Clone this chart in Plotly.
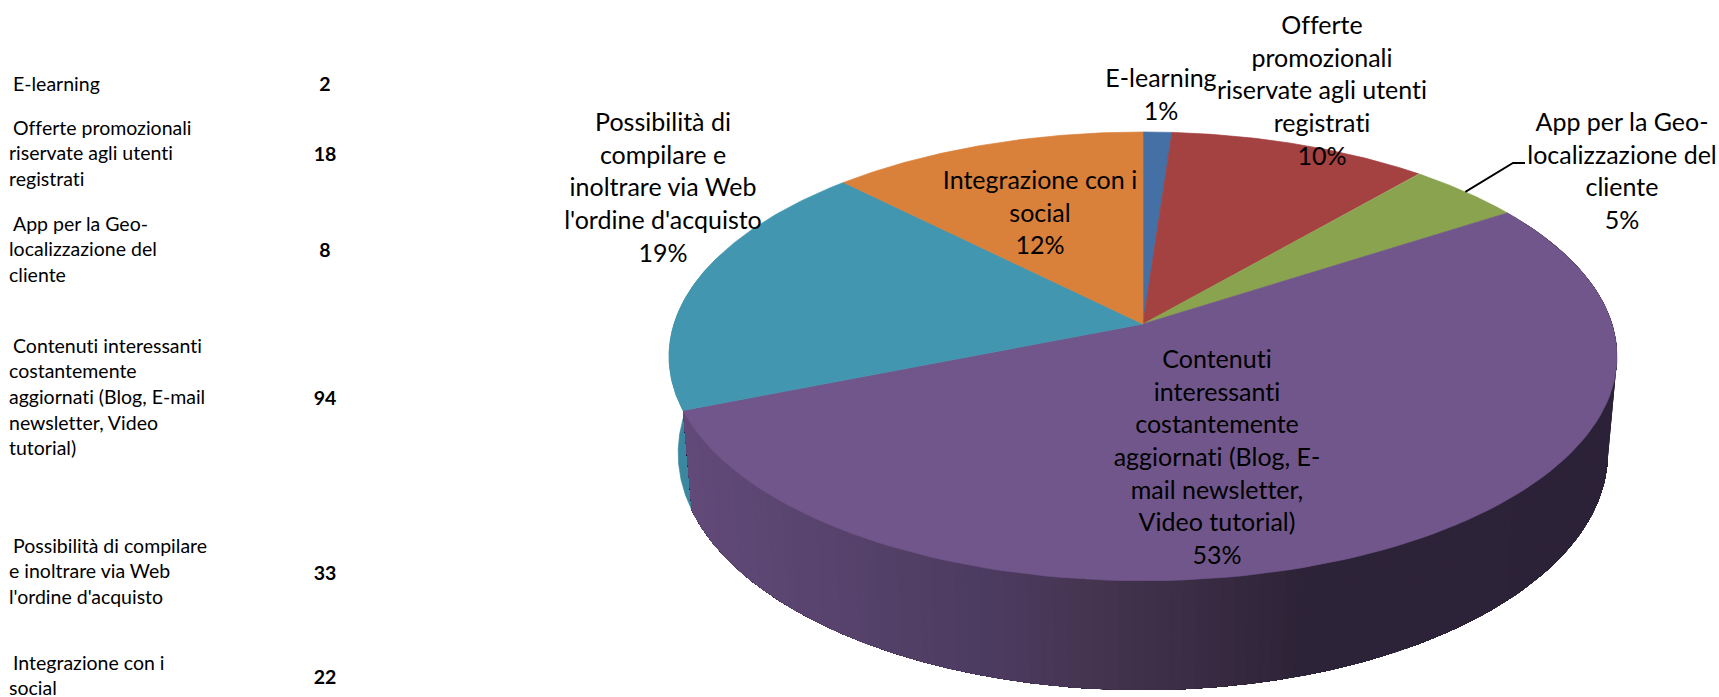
import numpy as np
import plotly.graph_objects as go

# ---- data ----
table_lines = [
    ["E-learning"],
    ["Offerte promozionali", "riservate agli utenti", "registrati"],
    ["App per la Geo-", "localizzazione del", "cliente"],
    ["Contenuti interessanti", "costantemente", "aggiornati (Blog, E-mail", "newsletter, Video", "tutorial)"],
    ["Possibilità di compilare", "e inoltrare via Web", "l'ordine d'acquisto"],
    ["Integrazione con i", "social"],
]
values = [2, 18, 8, 94, 33, 22]
pie_lines = [
    ["E-learning"],
    ["Offerte", "promozionali", "riservate agli utenti", "registrati"],
    ["App per la Geo-", "localizzazione del", "cliente"],
    ["Contenuti", "interessanti", "costantemente", "aggiornati (Blog, E-", "mail newsletter,", "Video tutorial)"],
    ["Possibilità di", "compilare e", "inoltrare via Web", "l'ordine d'acquisto"],
    ["Integrazione con i", "social"],
]
colors = ["#4470A5", "#A44141", "#89A34E", "#71568B", "#4296AF", "#D9803A"]

# ---- layout (pixels of the page) ----
W, H = 1719, 697
FONT = "Lato"
TABLE_SIZE = 19.5
PIE_SIZE = 25
table_first_y = [86, 130, 226, 348, 548, 665]
table_step = 25.6
table_value_y = [86, 156, 252, 400, 575, 679]
table_x_first, table_x_rest, table_value_x = 13, 9, 325
pie_label_x = [1161, 1322, 1622, 1217, 663, 1040]
pie_label_y = [81, 28, 125, 362, 125, 183]
pie_step = 32.6
leader_elbow = (1513, 163)
leader_end = (1525, 163)

CX, CY, K = 1143, 324, 0.1442
R_TOP, S_TOP = 469, 219.7
BOT_Y, R_BOT, S_BOT = 419, 460, 232
wall_stops = [(680, "#634b7b"), (800, "#5a4570"), (1000, "#4c3b5f"), (1106, "#44344f"), (1297, "#2e2438"), (1720, "#2c2238")]


def project(theta, cy, r, s):
    u, v = np.sin(theta), np.cos(theta)
    w = 1 / (1 + K * v)
    return CX + r * u * w, cy - s * v * w


def wall_color(x):
    xs = [p[0] for p in wall_stops]
    rgb = [[int(p[1][i:i + 2], 16) for i in (1, 3, 5)] for p in wall_stops]
    return "rgb(%d,%d,%d)" % tuple(np.interp(x, xs, [c[i] for c in rgb]) for i in range(3))


total = sum(values)
edges = np.cumsum([0] + values) / total * 2 * np.pi
fig = go.Figure()


def poly(x, y, color, width=0.7):
    fig.add_trace(go.Scatter(x=list(x), y=list(y), mode="lines", fill="toself", fillcolor=color,
                             line=dict(color=color, width=width), hoverinfo="skip", showlegend=False))


# teal wall (slice index 4)
t = np.linspace(edges[4], edges[4] + np.radians(40), 12)
xt, yt = project(t, CY, R_TOP, S_TOP)
xb, yb = project(t, BOT_Y, R_BOT, S_BOT)
poly(np.r_[xt, xb[::-1]], np.r_[yt, yb[::-1]], "#3A889F")

# purple wall (slice index 3): each band overpaints the rest, so no seams appear in the gradient
t = np.linspace(edges[3], edges[4], 141)
xt, yt = project(t, CY, R_TOP, S_TOP)
xb, yb = project(t, BOT_Y, R_BOT, S_BOT)
for i in range(len(t) - 1):
    poly(np.r_[xt[i:], xb[i:][::-1]], np.r_[yt[i:], yb[i:][::-1]],
         wall_color((xb[i] + xb[i + 1]) / 2), width=0)

# top face
for i in range(len(values)):
    t = np.linspace(edges[i], edges[i + 1], 120)
    x, y = project(t, CY, R_TOP, S_TOP)
    poly(np.r_[CX, x, CX], np.r_[CY, y, CY], colors[i])

# leader line, starting from the middle of the green slice's rim
lx, ly = project((edges[2] + edges[3]) / 2, CY, R_TOP, S_TOP)
fig.add_trace(go.Scatter(x=[lx, leader_elbow[0], leader_end[0]], y=[ly, leader_elbow[1], leader_end[1]],
                         mode="lines", line=dict(color="black", width=1.8), hoverinfo="skip", showlegend=False))


def texts(x, y, s, size, pos="middle center", bold=False):
    fig.add_trace(go.Scatter(x=x, y=y, text=s, mode="text", textposition=pos,
                             textfont=dict(family=FONT, size=size, color="black",
                                           weight="bold" if bold else "normal"),
                             hoverinfo="skip", showlegend=False))


# table
tx, ty, ts = [], [], []
for lines, y0 in zip(table_lines, table_first_y):
    for j, line in enumerate(lines):
        tx.append(table_x_first if j == 0 else table_x_rest)
        ty.append(y0 + j * table_step)
        ts.append(line)
texts(tx, ty, ts, TABLE_SIZE, "middle right")
texts([table_value_x] * len(values), table_value_y, [str(v) for v in values], TABLE_SIZE, bold=True)

# pie labels
px, py, ps = [], [], []
for lines, v, x0, y0 in zip(pie_lines, values, pie_label_x, pie_label_y):
    for j, line in enumerate(lines + [f"{round(v / total * 100)}%"]):
        px.append(x0)
        py.append(y0 + j * pie_step)
        ps.append(line)
texts(px, py, ps, PIE_SIZE)

fig.update_layout(width=W, height=H, margin=dict(l=0, r=0, t=0, b=0), paper_bgcolor="white", plot_bgcolor="white",
                  xaxis=dict(range=[0, W], visible=False, fixedrange=True),
                  yaxis=dict(range=[H, 0], visible=False, fixedrange=True),
                  showlegend=False)
page_css = ("document.body.style.margin='0';document.body.style.overflow='hidden';"
            "var s=document.createElement('style');"
            "s.textContent='text{font-variant-ligatures:none !important;font-feature-settings:\"liga\" 0,\"clig\" 0 !important}';"
            "document.head.appendChild(s);")
fig.write_html("out.html", config=dict(displayModeBar=False), post_script=page_css)
